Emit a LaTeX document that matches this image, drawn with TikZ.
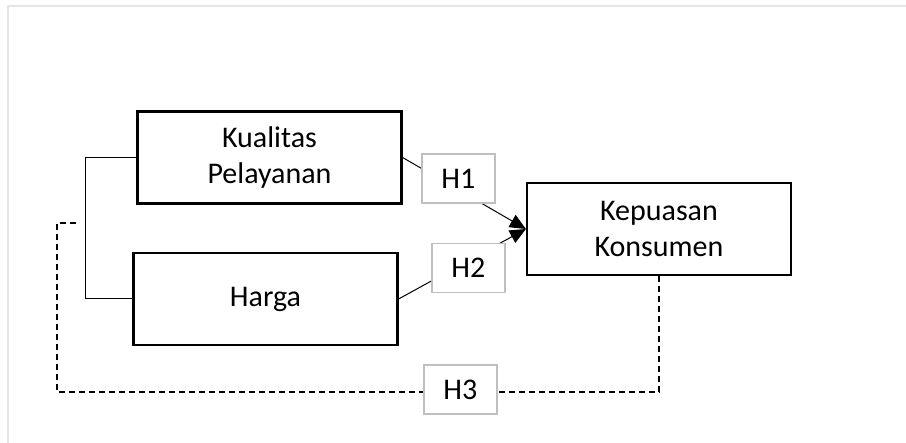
\documentclass[tikz,border=0pt]{standalone}
\usepackage{fontspec}
\setmainfont{Carlito}
\usetikzlibrary{arrows.meta}
\begin{document}
\begin{tikzpicture}[x=1pt,y=-1pt,
  varbox/.style={draw=black,line width=2.2pt,fill=white,inner sep=0pt,
    minimum width=264pt,minimum height=92pt,align=center,
    font=\fontsize{30}{36}\selectfont},
  hbox/.style={draw=black!25,line width=1.4pt,fill=white,inner sep=0pt,
    minimum width=73pt,minimum height=49pt,
    font=\fontsize{30}{36}\selectfont},
  thin/.style={line width=1pt,draw=black},
  dashline/.style={line width=1.5pt,draw=black,dash pattern=on 6pt off 4pt},
  tip/.style={-{Triangle[length=16pt,width=14pt]}}
]
\useasboundingbox (0,0) rectangle (906,443);
% frame
\draw[line width=1.5pt,draw=black!10] (8,443) -- (8,6) -- (906,6);
% boxes
\node[varbox] (kp) at (269.5,157.5) {Kualitas\\Pelayanan};
\node[varbox] (hg) at (265.5,299) {Harga};
\node[varbox] (ks) at (659,229) {Kepuasan\\Konsumen};
% connectors
\draw[thin,tip] (kp.east) -- (ks.west);
\draw[thin,tip] (hg.east) -- (ks.west);
\draw[thin] (kp.west) -- (85,157.5) -- (85,299) -- (hg.west);
\coordinate (dend) at (77,223);
\draw[dashline] (ks.south) -- (659,392) -- (57,392) -- (57,223) -- (dend);
% labels
\node[hbox] (h1) at (458.4,178.4) {H1};
\node[hbox] (h2) at (468.4,268.2) {H2};
\node[hbox] (h3) at (460.3,389.4) {H3};
\end{tikzpicture}
\end{document}
